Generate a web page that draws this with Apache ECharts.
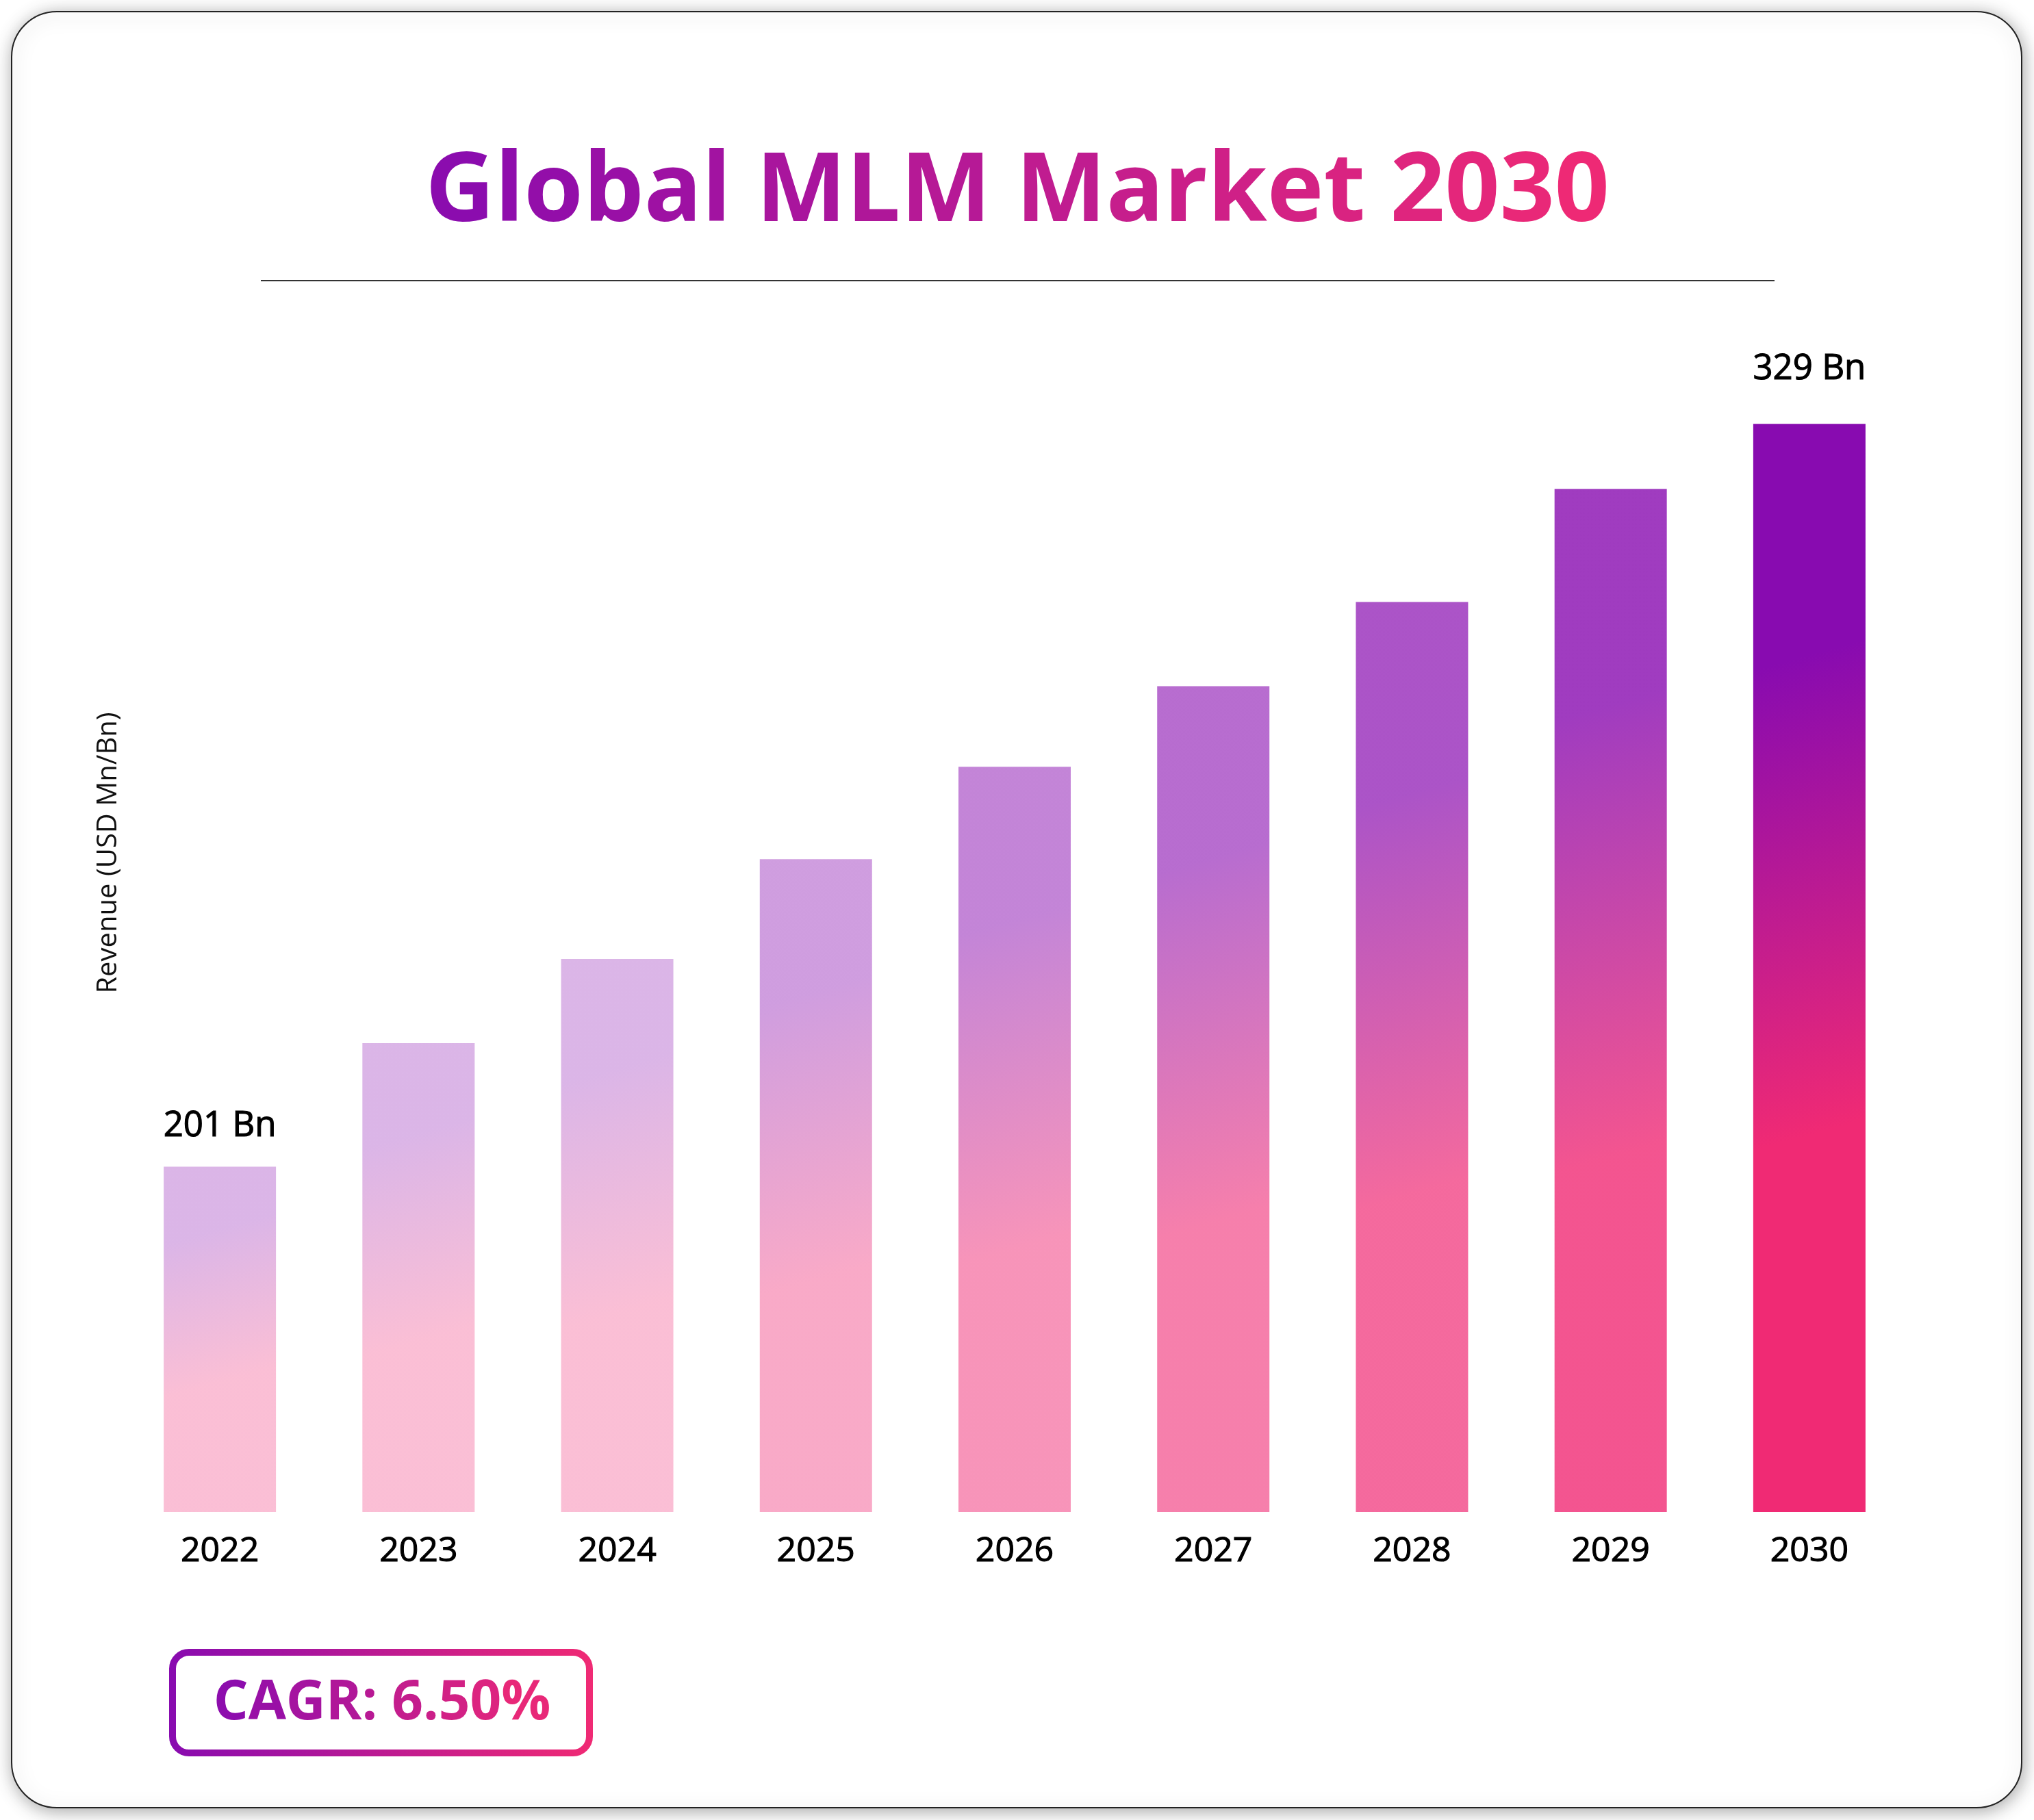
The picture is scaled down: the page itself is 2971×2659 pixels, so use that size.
<!DOCTYPE html>
<html>
<head>
<meta charset="utf-8">
<script src="https://cdn.jsdelivr.net/npm/echarts@6/dist/echarts.min.js"></script>
<style>
html,body{margin:0;padding:0;background:#fff;}
#chart{width:2971px;height:2659px;}
</style>
</head>
<body>
<div id="chart"></div>
<script>
// ---- data ----
const years = ['2022','2023','2024','2025','2026','2027','2028','2029','2030'];
const revenue = [201, 222.3, 236.8, 254.0, 269.9, 283.8, 298.3, 317.8, 329];
const labelledYears = ['2022','2030'];
const titleText = 'Global MLM Market 2030';
const yAxisTitle = 'Revenue (USD Mn/Bn)';
const cagrText = 'CAGR: 6.50%';

// ---- style ----
const barOpacity = [0.3, 0.3, 0.3, 0.4, 0.5, 0.6, 0.7, 0.8, 1.0];
const PURPLE_RGB = [136, 11, 176];
const PINK_RGB = [240, 42, 116];
const PURPLE = '#880BB0';
const PINK = '#F02A74';
const yMin = 141.5, yMax = 340;
const vTop = Math.max.apply(null, revenue);

function rgba(c, a) { return 'rgba(' + c[0] + ',' + c[1] + ',' + c[2] + ',' + a + ')'; }
function lerpColor(t) {
  const c = PURPLE_RGB.map((p, k) => Math.round(p + (PINK_RGB[k] - p) * t));
  return 'rgb(' + c.join(',') + ')';
}

function barGradient(v, a) {
  const tilt = 2.7 * (v - yMin) / (vTop - yMin);
  return {
    type: 'linear', x: 0, y: 0, x2: tilt, y2: 1,
    colorStops: [
      {offset: 0, color: rgba(PURPLE_RGB, a)},
      {offset: 0.21, color: rgba(PURPLE_RGB, a)},
      {offset: 0.62, color: rgba(PINK_RGB, a)},
      {offset: 1, color: rgba(PINK_RGB, a)}
    ]
  };
}

const seriesData = revenue.map((v, i) => {
  const item = {
    value: v,
    itemStyle: { color: barGradient(v, barOpacity[i]) }
  };
  if (labelledYears.indexOf(years[i]) >= 0) {
    item.label = { show: true, distance: i === 0 ? 34 : 54 };
  }
  return item;
});

const hGrad = () => ({
  type: 'linear', x: 0, y: 0, x2: 1, y2: 0,
  colorStops: [{offset: 0, color: PURPLE}, {offset: 1, color: PINK}]
});

// horizontal purple->pink gradient on text, done per character with rich text
const mctx = document.createElement('canvas').getContext('2d');
function gradientText(text, size) {
  const font = 'bold ' + size + 'px "Open Sans"';
  mctx.font = font;
  const chars = Array.from(text);
  const widths = chars.map(ch => mctx.measureText(ch).width);
  const total = widths.reduce((a, b) => a + b, 0);
  let acc = 0;
  const rich = {};
  let str = '';
  chars.forEach((ch, i) => {
    const t = (acc + widths[i] / 2) / total;
    acc += widths[i];
    const key = 'c' + i;
    rich[key] = {
      fill: lerpColor(t),
      fontFamily: 'Open Sans',
      fontSize: size,
      fontWeight: 'bold'
    };
    str += '{' + key + '|' + ch + '}';
  });
  return { text: str, rich: rich };
}
const titleRich = gradientText(titleText, 140);
const cagrRich = gradientText(cagrText, 80);

const chart = echarts.init(document.getElementById('chart'), null, {renderer: 'canvas'});
chart.setOption({
  backgroundColor: '#ffffff',
  animation: false,
  grid: { left: 176, right: 183, top: 526, bottom: 450, containLabel: false },
  xAxis: {
    type: 'category',
    data: years,
    axisLine: { show: false },
    axisTick: { show: false },
    axisLabel: {
      margin: 33,
      fontFamily: 'Open Sans',
      fontSize: 50,
      fontWeight: 500,
      color: '#000',
      textBorderColor: '#000',
      textBorderWidth: 1.1
    }
  },
  yAxis: {
    type: 'value',
    min: yMin,
    max: yMax,
    splitLine: { show: false },
    axisLine: { show: false },
    axisTick: { show: false },
    axisLabel: { show: false }
  },
  series: [{
    type: 'bar',
    data: seriesData,
    barWidth: 164,
    label: {
      show: false,
      position: 'top',
      formatter: p => p.value + ' Bn',
      fontFamily: 'Open Sans',
      fontSize: 51,
      fontWeight: 500,
      color: '#000',
      textBorderColor: '#000',
      textBorderWidth: 1.1
    },
    z: 5
  }],
  graphic: [
    {
      type: 'rect',
      z: -10,
      shape: { x: 17, y: 17, width: 2936, height: 2624, r: 66 },
      style: {
        fill: '#fff',
        stroke: '#222',
        lineWidth: 2,
        shadowBlur: 26,
        shadowColor: 'rgba(0,0,0,0.35)',
        shadowOffsetX: 2,
        shadowOffsetY: 4
      },
      silent: true
    },
    {
      type: 'text',
      z: 10,
      x: 1486,
      y: 283,
      style: {
        text: titleRich.text,
        rich: titleRich.rich,
        fontFamily: 'Open Sans',
        fontSize: 140,
        fontWeight: 'bold',
        align: 'center',
        verticalAlign: 'middle'
      }
    },
    {
      type: 'line',
      z: 10,
      shape: { x1: 381, y1: 410, x2: 2592, y2: 410 },
      style: { stroke: '#333', lineWidth: 2 }
    },
    {
      type: 'text',
      z: 10,
      x: 159,
      y: 1246,
      rotation: Math.PI / 2,
      style: {
        text: yAxisTitle,
        fontFamily: 'Open Sans',
        fontSize: 40,
        fill: '#111',
        align: 'center',
        verticalAlign: 'middle'
      }
    },
    {
      type: 'rect',
      z: 10,
      shape: { x: 252, y: 2414, width: 609, height: 147, r: 24 },
      style: { fill: '#fff', stroke: hGrad(), lineWidth: 10 }
    },
    {
      type: 'text',
      z: 11,
      x: 558,
      y: 2489,
      style: {
        text: cagrRich.text,
        rich: cagrRich.rich,
        fontFamily: 'Open Sans',
        fontSize: 80,
        fontWeight: 'bold',
        align: 'center',
        verticalAlign: 'middle'
      }
    }
  ]
});
</script>
</body>
</html>
